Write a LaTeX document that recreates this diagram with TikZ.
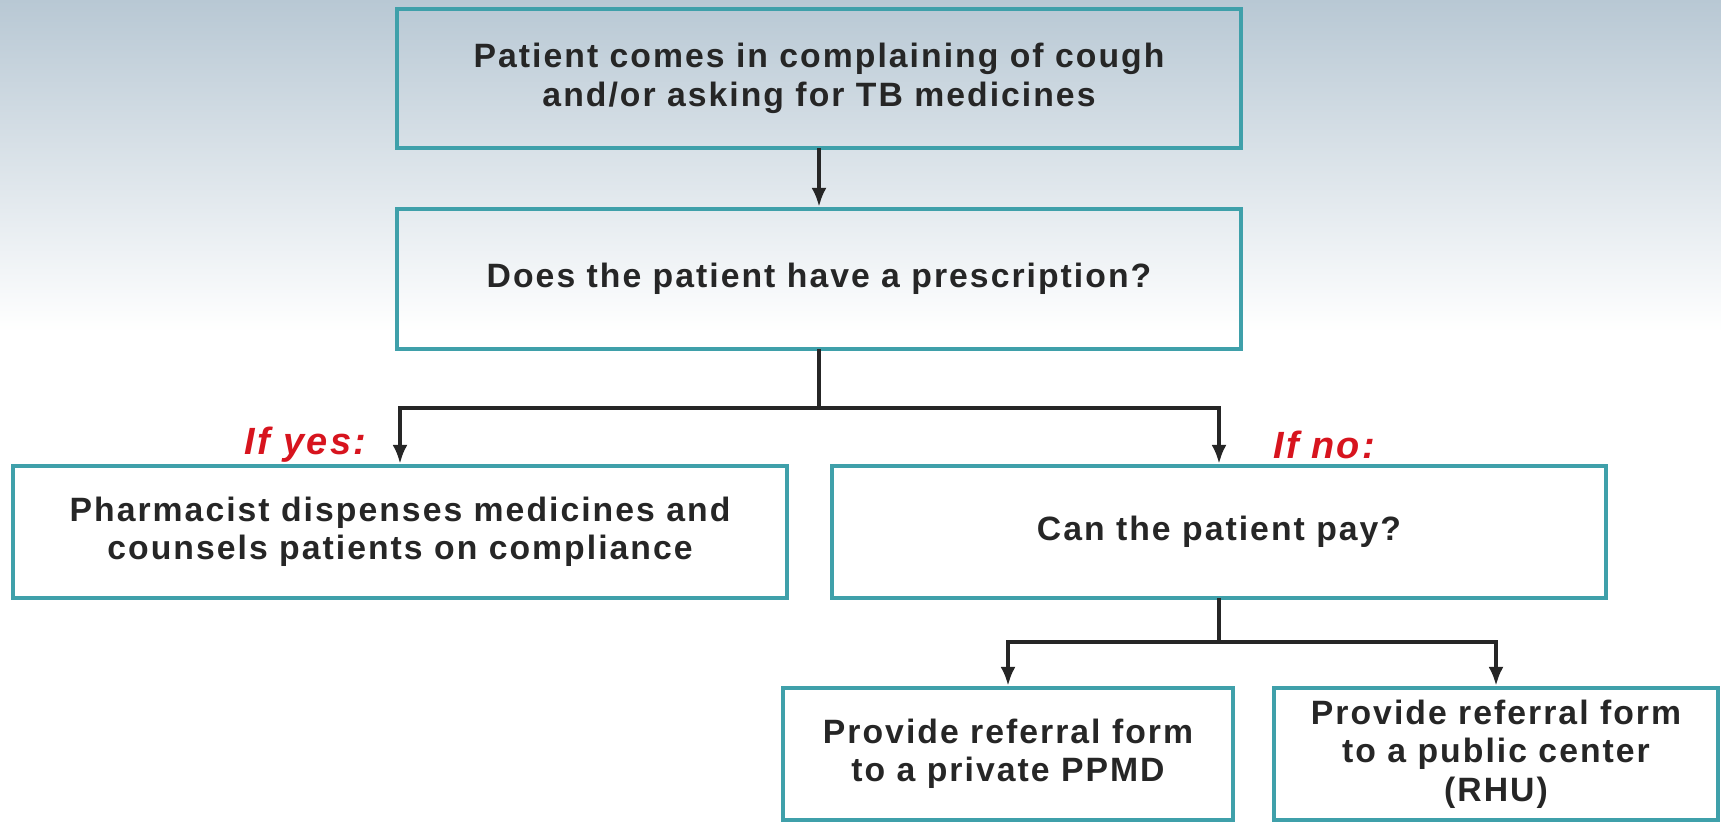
\documentclass[tikz,border=0pt]{standalone}
\usepackage{fontspec}
\setmainfont{Liberation Sans}
\newfontfamily\chartfont[LetterSpace=6]{Liberation Sans}
\usetikzlibrary{arrows.meta}
\definecolor{PharmTeal}{HTML}{3FA0AA}
\definecolor{PharmInk}{HTML}{262626}
\definecolor{PharmRed}{HTML}{D7141E}
\definecolor{PharmSky}{HTML}{B8C8D4}
\definecolor{PharmMist}{HTML}{DAE3EA}

\begin{document}
\begin{tikzpicture}[line width=1.1pt,>={Latex[length=1.9mm,width=1.5mm]},
  stepbox/.style={draw=PharmTeal,line width=1.2pt,minimum height=1.32cm,align=center,
    inner sep=0pt,text=PharmInk,font=\chartfont\bfseries\fontsize{9.6}{10.9}\selectfont},
  link/.style={draw=PharmInk,line width=1.1pt,line cap=rect},
  answer/.style={text=PharmRed,inner sep=0pt,font=\chartfont\bfseries\itshape\fontsize{10.8}{12}\selectfont}]
  \useasboundingbox (0,0) rectangle (17.21,8.22);
  % backdrop
  \shade[top color=PharmSky,middle color=PharmMist,bottom color=white] (0,8.22) rectangle (17.21,4.9);

  \node[stepbox,minimum width=8.44cm,minimum height=1.39cm] (arrive) at (8.19,7.435)
    {Patient comes in complaining of cough\\and/or asking for TB medicines};
  \node[stepbox,minimum width=8.44cm,minimum height=1.40cm] (rx) at (8.19,5.43)
    {Does the patient have a prescription?};
  \node[stepbox,minimum width=7.74cm] (dispense) at (4.00,2.90)
    {Pharmacist dispenses medicines and\\counsels patients on compliance};
  \node[stepbox,minimum width=7.74cm] (pay) at (12.19,2.90) {Can the patient pay?};
  \node[stepbox,minimum width=4.50cm] (ppmd) at (10.08,0.68)
    {Provide referral form\\to a private PPMD};
  \node[stepbox,minimum width=4.44cm] (rhu) at (14.96,0.68)
    {Provide referral form\\to a public center\\(RHU)};

  \node[answer,anchor=east] (ifyes) at (3.68,3.77) {If yes:};
  \node[answer,anchor=east] (ifno) at (13.77,3.77) {If no:};

  \draw[link,->] (arrive.south) -- (rx.north);
  \draw[link] (rx.south) -- ++(0,-0.57) coordinate (fork);
  \draw[link,->] (fork) -| (dispense.north);
  \draw[link,->] (fork) -| (pay.north);
  \draw[link] (pay.south) -- ++(0,-0.42) coordinate (split);
  \draw[link,->] (split) -| (ppmd.north);
  \draw[link,->] (split) -| (rhu.north);
\end{tikzpicture}
\end{document}
